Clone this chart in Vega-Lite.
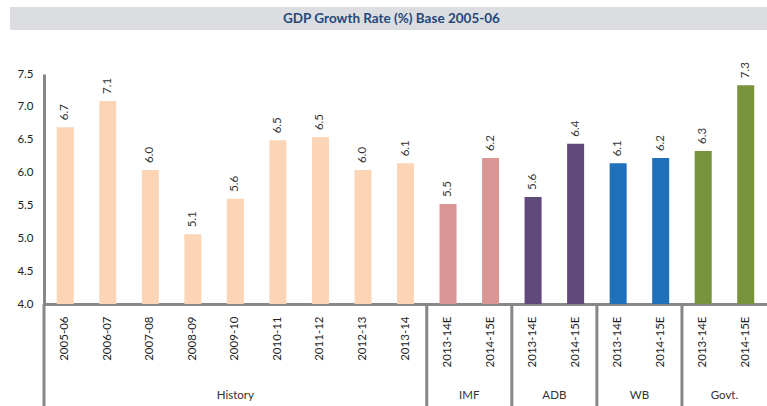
{
  "$schema": "https://vega.github.io/schema/vega-lite/v6.json",
  "padding": {"left": 10, "top": 7, "right": 0, "bottom": 0},
  "background": "white",
  "config": {"view": {"stroke": null}, "font": "Lato", "concat": {"spacing": 32}},
  "datasets": {
    "gdp": [
      {"group": "History", "period": "2005-06", "key": "History|2005-06", "value": 6.69},
      {"group": "History", "period": "2006-07", "key": "History|2006-07", "value": 7.09},
      {"group": "History", "period": "2007-08", "key": "History|2007-08", "value": 6.04},
      {"group": "History", "period": "2008-09", "key": "History|2008-09", "value": 5.06},
      {"group": "History", "period": "2009-10", "key": "History|2009-10", "value": 5.6},
      {"group": "History", "period": "2010-11", "key": "History|2010-11", "value": 6.49},
      {"group": "History", "period": "2011-12", "key": "History|2011-12", "value": 6.54},
      {"group": "History", "period": "2012-13", "key": "History|2012-13", "value": 6.04},
      {"group": "History", "period": "2013-14", "key": "History|2013-14", "value": 6.14},
      {"group": "IMF", "period": "2013-14E", "key": "IMF|2013-14E", "value": 5.52},
      {"group": "IMF", "period": "2014-15E", "key": "IMF|2014-15E", "value": 6.22},
      {"group": "ADB", "period": "2013-14E", "key": "ADB|2013-14E", "value": 5.63},
      {"group": "ADB", "period": "2014-15E", "key": "ADB|2014-15E", "value": 6.44},
      {"group": "WB", "period": "2013-14E", "key": "WB|2013-14E", "value": 6.14},
      {"group": "WB", "period": "2014-15E", "key": "WB|2014-15E", "value": 6.22},
      {"group": "Govt.", "period": "2013-14E", "key": "Govt.|2013-14E", "value": 6.33},
      {"group": "Govt.", "period": "2014-15E", "key": "Govt.|2014-15E", "value": 7.33}
    ],
    "groups": [
      {"group": "History", "start": "History|2005-06", "mid": "History|2009-10"},
      {"group": "IMF", "start": "IMF|2013-14E", "mid": "IMF|2014-15E"},
      {"group": "ADB", "start": "ADB|2013-14E", "mid": "ADB|2014-15E"},
      {"group": "WB", "start": "WB|2013-14E", "mid": "WB|2014-15E"},
      {"group": "Govt.", "start": "Govt.|2013-14E", "mid": "Govt.|2014-15E"}
    ]
  },
  "vconcat": [
    {
      "width": 723,
      "height": 23,
      "data": {"values": [{"title": "GDP Growth Rate (%) Base 2005-06"}]},
      "layer": [
        {
          "mark": {"type": "rect", "color": "#dcdde0"},
          "encoding": {
            "x": {"datum": -0.047, "type": "quantitative", "scale": {"domain": [0, 1], "nice": false, "zero": false}, "axis": null},
            "x2": {"datum": 1}
          }
        },
        {
          "mark": {"type": "text", "font": "Lato", "fontWeight": "bold", "fontSize": 13.5, "color": "#1f497d", "baseline": "middle", "align": "center"},
          "encoding": {
            "x": {"datum": 0.4806, "type": "quantitative", "axis": null},
            "text": {"field": "title", "type": "nominal"}
          }
        }
      ]
    },
    {
      "width": 723,
      "height": 230,
      "layer": [
        {
          "data": {"name": "gdp"},
          "mark": {"type": "bar", "width": {"band": 0.4}},
          "encoding": {
            "x": {
              "field": "key", "type": "nominal",
              "scale": {"domain": ["History|2005-06","History|2006-07","History|2007-08","History|2008-09","History|2009-10","History|2010-11","History|2011-12","History|2012-13","History|2013-14","IMF|2013-14E","IMF|2014-15E","ADB|2013-14E","ADB|2014-15E","WB|2013-14E","WB|2014-15E","Govt.|2013-14E","Govt.|2014-15E"], "paddingInner": 0, "paddingOuter": 0},
              "axis": {"title": null, "labelExpr": "split(datum.value, '|')[1]", "labelAngle": 270, "labelAlign": "right", "labelBaseline": "middle", "labelPadding": 12, "ticks": false, "domainColor": "#878787", "domainWidth": 3, "labelFont": "Lato", "labelFontSize": 11.5, "labelColor": "#222222"}
            },
            "y": {
              "field": "value", "type": "quantitative",
              "scale": {"domain": [4, 7.5], "zero": false, "nice": false},
              "axis": {"title": null, "values": [4, 4.5, 5, 5.5, 6, 6.5, 7, 7.5], "tickCount": 8, "format": ".1f", "labelOverlap": false, "grid": false, "ticks": false, "domainColor": "#878787", "domainWidth": 3, "labelPadding": 11, "labelFont": "Lato", "labelFontSize": 11.5, "labelColor": "#222222"}
            },
            "y2": {"datum": 4},
            "color": {
              "field": "group", "type": "nominal",
              "scale": {"domain": ["History", "IMF", "ADB", "WB", "Govt."], "range": ["#fbd5b5", "#d99694", "#604a7b", "#1f6fb9", "#77933c"]},
              "legend": null
            }
          }
        },
        {
          "data": {"name": "gdp"},
          "mark": {"type": "text", "angle": 270, "align": "left", "baseline": "middle", "dx": 7, "font": "Lato", "fontSize": 11.5, "color": "#333333"},
          "encoding": {
            "x": {"field": "key", "type": "nominal"},
            "y": {"field": "value", "type": "quantitative", "axis": {"title": null, "values": [4, 4.5, 5, 5.5, 6, 6.5, 7, 7.5], "tickCount": 8, "format": ".1f", "labelOverlap": false, "grid": false, "ticks": false, "domainColor": "#878787", "domainWidth": 3, "labelPadding": 11, "labelFont": "Lato", "labelFontSize": 11.5, "labelColor": "#222222"}},
            "text": {"field": "value", "type": "quantitative", "format": ".1f"}
          }
        },
        {
          "data": {"name": "groups"},
          "mark": {"type": "rule", "color": "#878787", "strokeWidth": 3},
          "encoding": {
            "x": {"field": "start", "type": "nominal", "bandPosition": 0},
            "y": {"datum": 4, "type": "quantitative", "axis": {"title": null, "values": [4, 4.5, 5, 5.5, 6, 6.5, 7, 7.5], "tickCount": 8, "format": ".1f", "labelOverlap": false, "grid": false, "ticks": false, "domainColor": "#878787", "domainWidth": 3, "labelPadding": 11, "labelFont": "Lato", "labelFontSize": 11.5, "labelColor": "#222222"}},
            "y2": {"datum": 2.42}
          }
        },
        {
          "data": {"name": "groups"},
          "transform": [{"filter": "datum.group === 'History'"}],
          "mark": {"type": "text", "baseline": "middle", "align": "center", "font": "Lato", "fontSize": 11.5, "color": "#333333"},
          "encoding": {
            "x": {"field": "mid", "type": "nominal", "bandPosition": 0.5},
            "y": {"datum": 2.6, "type": "quantitative", "axis": {"title": null, "values": [4, 4.5, 5, 5.5, 6, 6.5, 7, 7.5], "tickCount": 8, "format": ".1f", "labelOverlap": false, "grid": false, "ticks": false, "domainColor": "#878787", "domainWidth": 3, "labelPadding": 11, "labelFont": "Lato", "labelFontSize": 11.5, "labelColor": "#222222"}},
            "text": {"field": "group", "type": "nominal"}
          }
        },
        {
          "data": {"name": "groups"},
          "transform": [{"filter": "datum.group !== 'History'"}],
          "mark": {"type": "text", "baseline": "middle", "align": "center", "font": "Lato", "fontSize": 11.5, "color": "#333333"},
          "encoding": {
            "x": {"field": "mid", "type": "nominal", "bandPosition": 0},
            "y": {"datum": 2.6, "type": "quantitative", "axis": {"title": null, "values": [4, 4.5, 5, 5.5, 6, 6.5, 7, 7.5], "tickCount": 8, "format": ".1f", "labelOverlap": false, "grid": false, "ticks": false, "domainColor": "#878787", "domainWidth": 3, "labelPadding": 11, "labelFont": "Lato", "labelFontSize": 11.5, "labelColor": "#222222"}},
            "text": {"field": "group", "type": "nominal"}
          }
        }
      ]
    }
  ]
}
